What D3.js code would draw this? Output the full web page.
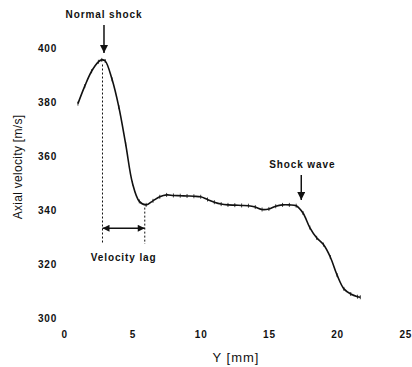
<!DOCTYPE html>
<html><head><meta charset="utf-8">
<script src="https://cdn.jsdelivr.net/npm/d3@7"></script>
<style>
html,body{margin:0;padding:0;background:#fff;}
svg{display:block;}
text{font-family:"Liberation Sans",Arial,sans-serif;fill:#111;}
</style></head>
<body>
<svg id="c" width="412" height="367"></svg>
<script>
const yPos = [1.0,1.5,2.0,2.5,2.75,3.0,3.5,4.0,4.5,5.0,5.5,6.0,6.5,7.0,7.5,8.0,8.5,9.0,9.5,10.0,10.5,11.0,11.5,12.0,12.5,13.0,13.5,14.0,14.5,15.0,15.5,16.0,16.5,17.0,17.5,18.0,18.5,19.0,19.5,20.0,20.5,21.0,21.5,21.7];
const velocity = [379.5,386,391.5,395,395.7,395.3,388.5,378.2,364.5,350,343.3,342,343.5,345,345.7,345.5,345.4,345.3,345.2,345,344,343,342.3,342,341.9,341.8,341.7,341.2,340.3,340.5,341.5,342,342,341.7,339,333.6,329.8,327.3,322.7,316,310.9,309,308,307.8];
const xTicks = [0,5,10,15,20,25];
const yTicks = [300,320,340,360,380,400];
const normalShockY = 2.8, lagEndY = 5.9, shockWaveY = 17.3;

const svg = d3.select("#c");
const x = d3.scaleLinear().domain([0,25]).range([64.3,405.3]);
const y = d3.scaleLinear().domain([300,400]).range([318.3,48.3]);

// axes (labels only)
const gx = svg.append("g").attr("transform","translate(0,331)")
  .call(d3.axisBottom(x).tickValues(xTicks).tickSize(0).tickPadding(0));
const gy = svg.append("g").attr("transform","translate(57,0)")
  .call(d3.axisLeft(y).tickValues(yTicks).tickSize(0).tickPadding(0));
[gx,gy].forEach(g=>{
  g.select(".domain").remove();
  g.selectAll("text").style("font-family","'Liberation Sans',Arial,sans-serif")
   .style("font-size","10px").style("font-weight","bold").style("letter-spacing","0.8px").attr("fill","#111");
});
gx.selectAll("text").attr("dy","0.71em");
gy.selectAll("text").attr("dy","0.35em");

// curve
const data = yPos.map((d,i)=>({x:d,v:velocity[i]}));
const line = d3.line().x(d=>x(d.x)).y(d=>y(d.v)).curve(d3.curveCatmullRom.alpha(0.5));
svg.append("path").datum(data).attr("d",line).attr("fill","none")
  .attr("stroke","#111").attr("stroke-width",1.6).attr("stroke-linejoin","round");
// small marker ticks
svg.append("g").selectAll("line").data(data).join("line")
  .attr("x1",d=>x(d.x)).attr("x2",d=>x(d.x))
  .attr("y1",d=>y(d.v)-2).attr("y2",d=>y(d.v)+2)
  .attr("stroke","#111").attr("stroke-width",0.8);

// arrow markers
const defs = svg.append("defs");
defs.append("marker").attr("id","ah").attr("viewBox","0 0 10 10").attr("refX",10).attr("refY",5)
  .attr("markerWidth",10).attr("markerHeight",8).attr("markerUnits","userSpaceOnUse").attr("orient","auto")
  .append("path").attr("d","M0,0L10,5L0,10Z").attr("fill","#111");
defs.append("marker").attr("id","ah2").attr("viewBox","0 0 10 10").attr("refX",10).attr("refY",5)
  .attr("markerWidth",10).attr("markerHeight",7).attr("markerUnits","userSpaceOnUse").attr("orient","auto-start-reverse")
  .append("path").attr("d","M0,0L10,5L0,10Z").attr("fill","#111");

// dotted lines
const xs = x(normalShockY), xe = x(lagEndY);
svg.append("line").attr("x1",xs).attr("x2",xs).attr("y1",y(394)).attr("y2",244)
  .attr("stroke","#111").attr("stroke-width",1).attr("stroke-dasharray","2,2");
svg.append("line").attr("x1",xe).attr("x2",xe).attr("y1",y(341)).attr("y2",244)
  .attr("stroke","#111").attr("stroke-width",1).attr("stroke-dasharray","2,2");
// double arrow
svg.append("line").attr("x1",xs).attr("x2",xe).attr("y1",228.3).attr("y2",228.3)
  .attr("stroke","#111").attr("stroke-width",1.5)
  .attr("marker-start","url(#ah2)").attr("marker-end","url(#ah2)");

// Normal shock
const xn = x(normalShockY)+1.5;
svg.append("line").attr("x1",xn).attr("x2",xn).attr("y1",25).attr("y2",53)
  .attr("stroke","#111").attr("stroke-width",1.5).attr("marker-end","url(#ah)");
svg.append("text").attr("x",xn).attr("y",17.5).attr("text-anchor","middle")
  .style("font-size","10px").style("font-weight","bold").style("letter-spacing","0.9px").text("Normal shock");

// Shock wave
const xw = x(shockWaveY)+1;
svg.append("line").attr("x1",xw).attr("x2",xw).attr("y1",175).attr("y2",200)
  .attr("stroke","#111").attr("stroke-width",1.5).attr("marker-end","url(#ah)");
svg.append("text").attr("x",xw+1).attr("y",168).attr("text-anchor","middle")
  .style("font-size","10px").style("font-weight","bold").style("letter-spacing","0.9px").text("Shock wave");

// Velocity lag
svg.append("text").attr("x",(xs+xe)/2).attr("y",261).attr("text-anchor","middle")
  .style("font-size","10px").style("font-weight","bold").style("letter-spacing","0.9px").text("Velocity lag");

// axis titles
svg.append("text").attr("transform","translate(21.5,167) rotate(-90)").attr("text-anchor","middle")
  .style("font-size","12px").style("letter-spacing","0.3px").text("Axial velocity [m/s]");
svg.append("text").attr("x",236).attr("y",362).attr("text-anchor","middle")
  .style("font-size","13px").style("letter-spacing","1px").text("Y [mm]");
</script>
</body></html>
